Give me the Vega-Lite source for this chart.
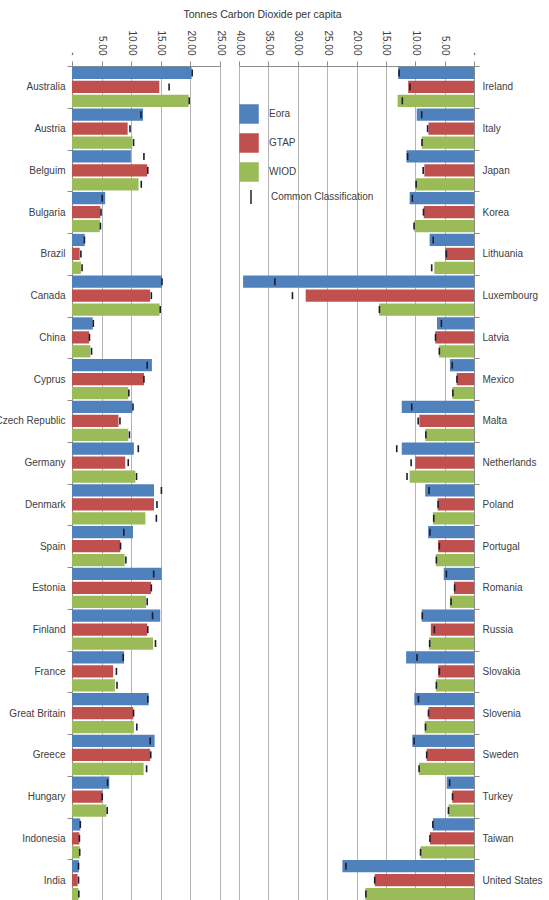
{
  "$schema": "https://vega.github.io/schema/vega-lite/v6.json",
  "background": "white",
  "padding": {"left": -6, "top": 10, "right": 0, "bottom": 0},
  "title": {
    "text": "Tonnes Carbon Dioxide per capita",
    "fontSize": 10.5,
    "fontWeight": "normal",
    "font": "Liberation Sans",
    "color": "#333333",
    "anchor": "middle",
    "dx": -6,
    "offset": 9
  },
  "datasets": {
    "left": [
      {"country": "Australia", "source": "Eora", "value": 20.2, "common": 20.3},
      {"country": "Australia", "source": "GTAP", "value": 14.75, "common": 16.4},
      {"country": "Australia", "source": "WIOD", "value": 19.7, "common": 19.8},
      {"country": "Austria", "source": "Eora", "value": 12.0, "common": 11.65},
      {"country": "Austria", "source": "GTAP", "value": 9.4, "common": 9.8},
      {"country": "Austria", "source": "WIOD", "value": 10.2, "common": 10.4},
      {"country": "Belguim", "source": "Eora", "value": 9.95, "common": 12.15},
      {"country": "Belguim", "source": "GTAP", "value": 12.7, "common": 12.8},
      {"country": "Belguim", "source": "WIOD", "value": 11.25, "common": 11.7},
      {"country": "Bulgaria", "source": "Eora", "value": 5.6, "common": 5.1},
      {"country": "Bulgaria", "source": "GTAP", "value": 4.8, "common": 4.9},
      {"country": "Bulgaria", "source": "WIOD", "value": 4.7, "common": 4.8},
      {"country": "Brazil", "source": "Eora", "value": 2.15, "common": 2.1},
      {"country": "Brazil", "source": "GTAP", "value": 1.3, "common": 1.5},
      {"country": "Brazil", "source": "WIOD", "value": 1.5, "common": 1.7},
      {"country": "Canada", "source": "Eora", "value": 15.2, "common": 15.2},
      {"country": "Canada", "source": "GTAP", "value": 13.2, "common": 13.4},
      {"country": "Canada", "source": "WIOD", "value": 14.8, "common": 14.9},
      {"country": "China", "source": "Eora", "value": 3.5, "common": 3.6},
      {"country": "China", "source": "GTAP", "value": 2.9, "common": 2.95},
      {"country": "China", "source": "WIOD", "value": 3.1, "common": 3.3},
      {"country": "Cyprus", "source": "Eora", "value": 13.5, "common": 12.7},
      {"country": "Cyprus", "source": "GTAP", "value": 12.15, "common": 12.15},
      {"country": "Cyprus", "source": "WIOD", "value": 9.5, "common": 9.6},
      {"country": "Czech Republic", "source": "Eora", "value": 10.2, "common": 10.3},
      {"country": "Czech Republic", "source": "GTAP", "value": 7.85, "common": 8.1},
      {"country": "Czech Republic", "source": "WIOD", "value": 9.5, "common": 9.7},
      {"country": "Germany", "source": "Eora", "value": 10.45, "common": 11.2},
      {"country": "Germany", "source": "GTAP", "value": 9.0, "common": 9.5},
      {"country": "Germany", "source": "WIOD", "value": 10.7, "common": 10.9},
      {"country": "Denmark", "source": "Eora", "value": 13.85, "common": 15.1},
      {"country": "Denmark", "source": "GTAP", "value": 13.85, "common": 14.35},
      {"country": "Denmark", "source": "WIOD", "value": 12.4, "common": 14.25},
      {"country": "Spain", "source": "Eora", "value": 10.3, "common": 8.75},
      {"country": "Spain", "source": "GTAP", "value": 8.15, "common": 8.2},
      {"country": "Spain", "source": "WIOD", "value": 8.9, "common": 9.1},
      {"country": "Estonia", "source": "Eora", "value": 15.15, "common": 13.8},
      {"country": "Estonia", "source": "GTAP", "value": 13.35, "common": 13.4},
      {"country": "Estonia", "source": "WIOD", "value": 12.5, "common": 12.7},
      {"country": "Finland", "source": "Eora", "value": 14.9, "common": 13.6},
      {"country": "Finland", "source": "GTAP", "value": 12.7, "common": 12.8},
      {"country": "Finland", "source": "WIOD", "value": 13.7, "common": 14.1},
      {"country": "France", "source": "Eora", "value": 8.8, "common": 8.65},
      {"country": "France", "source": "GTAP", "value": 6.95, "common": 7.5},
      {"country": "France", "source": "WIOD", "value": 7.25, "common": 7.6},
      {"country": "Great Britain", "source": "Eora", "value": 12.95, "common": 12.8},
      {"country": "Great Britain", "source": "GTAP", "value": 10.35, "common": 10.4},
      {"country": "Great Britain", "source": "WIOD", "value": 10.45, "common": 10.95},
      {"country": "Greece", "source": "Eora", "value": 13.95, "common": 13.2},
      {"country": "Greece", "source": "GTAP", "value": 13.2, "common": 13.3},
      {"country": "Greece", "source": "WIOD", "value": 12.1, "common": 12.6},
      {"country": "Hungary", "source": "Eora", "value": 6.3, "common": 6.0},
      {"country": "Hungary", "source": "GTAP", "value": 5.1, "common": 5.1},
      {"country": "Hungary", "source": "WIOD", "value": 5.8, "common": 5.95},
      {"country": "Indonesia", "source": "Eora", "value": 1.4, "common": 1.4},
      {"country": "Indonesia", "source": "GTAP", "value": 1.25, "common": 1.25},
      {"country": "Indonesia", "source": "WIOD", "value": 1.3, "common": 1.3},
      {"country": "India", "source": "Eora", "value": 1.15, "common": 1.1},
      {"country": "India", "source": "GTAP", "value": 0.95, "common": 1.1},
      {"country": "India", "source": "WIOD", "value": 1.08, "common": 1.15}
    ],
    "right": [
      {"country": "Ireland", "source": "Eora", "value": 12.9, "common": 12.75},
      {"country": "Ireland", "source": "GTAP", "value": 11.2, "common": 10.9},
      {"country": "Ireland", "source": "WIOD", "value": 13.0, "common": 12.2},
      {"country": "Italy", "source": "Eora", "value": 9.75, "common": 8.9},
      {"country": "Italy", "source": "GTAP", "value": 7.75, "common": 7.9},
      {"country": "Italy", "source": "WIOD", "value": 8.9, "common": 8.85},
      {"country": "Japan", "source": "Eora", "value": 11.5, "common": 11.3},
      {"country": "Japan", "source": "GTAP", "value": 8.45, "common": 8.65},
      {"country": "Japan", "source": "WIOD", "value": 9.9, "common": 9.85},
      {"country": "Korea", "source": "Eora", "value": 10.95, "common": 10.5},
      {"country": "Korea", "source": "GTAP", "value": 8.55, "common": 8.6},
      {"country": "Korea", "source": "WIOD", "value": 10.15, "common": 10.2},
      {"country": "Lithuania", "source": "Eora", "value": 7.55, "common": 6.95},
      {"country": "Lithuania", "source": "GTAP", "value": 4.9, "common": 4.7},
      {"country": "Lithuania", "source": "WIOD", "value": 6.75, "common": 7.2},
      {"country": "Luxembourg", "source": "Eora", "value": 39.3, "common": 33.9},
      {"country": "Luxembourg", "source": "GTAP", "value": 28.65, "common": 30.9},
      {"country": "Luxembourg", "source": "WIOD", "value": 16.15, "common": 16.1},
      {"country": "Latvia", "source": "Eora", "value": 6.3, "common": 5.55},
      {"country": "Latvia", "source": "GTAP", "value": 6.6, "common": 6.55},
      {"country": "Latvia", "source": "WIOD", "value": 5.95, "common": 5.9},
      {"country": "Mexico", "source": "Eora", "value": 4.1, "common": 3.7},
      {"country": "Mexico", "source": "GTAP", "value": 2.95, "common": 2.9},
      {"country": "Mexico", "source": "WIOD", "value": 3.7, "common": 3.6},
      {"country": "Malta", "source": "Eora", "value": 12.3, "common": 10.6},
      {"country": "Malta", "source": "GTAP", "value": 9.3, "common": 9.5},
      {"country": "Malta", "source": "WIOD", "value": 8.3, "common": 8.2},
      {"country": "Netherlands", "source": "Eora", "value": 12.3, "common": 13.15},
      {"country": "Netherlands", "source": "GTAP", "value": 10.0, "common": 10.7},
      {"country": "Netherlands", "source": "WIOD", "value": 10.95, "common": 11.4},
      {"country": "Poland", "source": "Eora", "value": 8.3, "common": 7.65},
      {"country": "Poland", "source": "GTAP", "value": 6.2, "common": 6.1},
      {"country": "Poland", "source": "WIOD", "value": 7.0, "common": 6.85},
      {"country": "Portugal", "source": "Eora", "value": 7.8, "common": 7.5},
      {"country": "Portugal", "source": "GTAP", "value": 6.1, "common": 5.9},
      {"country": "Portugal", "source": "WIOD", "value": 6.5, "common": 6.4},
      {"country": "Romania", "source": "Eora", "value": 5.15, "common": 4.7},
      {"country": "Romania", "source": "GTAP", "value": 3.4, "common": 3.3},
      {"country": "Romania", "source": "WIOD", "value": 4.1, "common": 3.9},
      {"country": "Russia", "source": "Eora", "value": 8.9, "common": 8.8},
      {"country": "Russia", "source": "GTAP", "value": 7.35, "common": 6.75},
      {"country": "Russia", "source": "WIOD", "value": 7.65, "common": 7.55},
      {"country": "Slovakia", "source": "Eora", "value": 11.55, "common": 9.7},
      {"country": "Slovakia", "source": "GTAP", "value": 6.1, "common": 5.9},
      {"country": "Slovakia", "source": "WIOD", "value": 6.5, "common": 6.4},
      {"country": "Slovenia", "source": "Eora", "value": 10.15, "common": 9.45},
      {"country": "Slovenia", "source": "GTAP", "value": 7.75, "common": 7.75},
      {"country": "Slovenia", "source": "WIOD", "value": 8.4, "common": 8.25},
      {"country": "Sweden", "source": "Eora", "value": 10.5, "common": 10.2},
      {"country": "Sweden", "source": "GTAP", "value": 8.05, "common": 8.05},
      {"country": "Sweden", "source": "WIOD", "value": 9.35, "common": 9.35},
      {"country": "Turkey", "source": "Eora", "value": 4.65, "common": 4.15},
      {"country": "Turkey", "source": "GTAP", "value": 3.7, "common": 3.65},
      {"country": "Turkey", "source": "WIOD", "value": 4.35, "common": 4.35},
      {"country": "Taiwan", "source": "Eora", "value": 7.0, "common": 7.0},
      {"country": "Taiwan", "source": "GTAP", "value": 7.5, "common": 7.5},
      {"country": "Taiwan", "source": "WIOD", "value": 9.1, "common": 9.1},
      {"country": "United States", "source": "Eora", "value": 22.4, "common": 21.8},
      {"country": "United States", "source": "GTAP", "value": 16.9, "common": 16.9},
      {"country": "United States", "source": "WIOD", "value": 18.5, "common": 18.4}
    ]
  },
  "hconcat": [
    {
      "width": 148,
      "height": 835,
      "data": {"name": "left"},
      "encoding": {
        "y": {
          "field": "country",
          "type": "nominal",
          "sort": null,
          "scale": {"paddingInner": 0, "paddingOuter": 0},
          "axis": {
            "orient": "left",
            "title": null,
            "tickBand": "extent",
            "tickSize": 5,
            "labelPadding": 2,
            "domainColor": "#8c8c8c",
            "tickColor": "#8c8c8c"
          }
        },
        "yOffset": {
          "field": "source",
          "type": "nominal",
          "scale": {"paddingInner": 0.12, "paddingOuter": 0.06}
        }
      },
      "layer": [
        {
          "mark": {"type": "bar"},
          "encoding": {
            "x": {
              "field": "value",
              "type": "quantitative",
              "scale": {"domain": [0, 25], "nice": false},
              "axis": {
                "orient": "top",
                "title": null,
                "values": [0, 5, 10, 15, 20, 25],
                "labelExpr": "datum.value == 0 ? '-' : format(datum.value, '.2f')",
                "labelAngle": 90,
                "labelOverlap": false,
                "tickSize": 5,
                "labelPadding": 6,
                "grid": true
              }
            },
            "color": {
              "field": "source",
              "type": "nominal",
              "scale": {"domain": ["Eora", "GTAP", "WIOD"], "range": ["#4f81bd", "#c0504d", "#9bbb59"]},
              "legend": null
            }
          }
        },
        {
          "mark": {"type": "point", "filled": false, "size": 49, "strokeWidth": 1.6, "color": "#1c1c30", "opacity": 1},
          "encoding": {
            "x": {
              "field": "common",
              "type": "quantitative",
              "axis": {
                "orient": "top",
                "title": null,
                "values": [0, 5, 10, 15, 20, 25],
                "labelExpr": "datum.value == 0 ? '-' : format(datum.value, '.2f')",
                "labelAngle": 90,
                "labelOverlap": false,
                "tickSize": 5,
                "labelPadding": 6,
                "grid": true
              }
            },
            "shape": {
              "datum": "Common Classification",
              "scale": {"range": ["M0,-1L0,1"]},
              "legend": null
            }
          }
        }
      ]
    },
    {
      "width": 235,
      "height": 835,
      "data": {"name": "right"},
      "encoding": {
        "y": {
          "field": "country",
          "type": "nominal",
          "sort": null,
          "scale": {"paddingInner": 0, "paddingOuter": 0},
          "axis": {
            "orient": "right",
            "title": null,
            "tickBand": "extent",
            "tickSize": 5,
            "labelPadding": 3,
            "domainColor": "#8c8c8c",
            "tickColor": "#8c8c8c"
          }
        },
        "yOffset": {
          "field": "source",
          "type": "nominal",
          "scale": {"paddingInner": 0.12, "paddingOuter": 0.06}
        }
      },
      "layer": [
        {
          "mark": {"type": "bar"},
          "encoding": {
            "x": {
              "field": "value",
              "type": "quantitative",
              "scale": {"domain": [0, 40], "nice": false, "reverse": true},
              "axis": {
                "orient": "top",
                "title": null,
                "values": [0, 5, 10, 15, 20, 25, 30, 35, 40],
                "labelExpr": "datum.value == 0 ? '-' : format(datum.value, '.2f')",
                "labelAngle": 90,
                "labelOverlap": false,
                "tickSize": 5,
                "labelPadding": 6,
                "grid": true
              }
            },
            "color": {
              "field": "source",
              "type": "nominal",
              "scale": {"domain": ["Eora", "GTAP", "WIOD"], "range": ["#4f81bd", "#c0504d", "#9bbb59"]},
              "legend": {
                "orient": "none",
                "legendX": 0,
                "legendY": 38,
                "title": null,
                "padding": 0,
                "symbolType": "square",
                "symbolSize": 380,
                "symbolStrokeWidth": 0,
                "symbolOpacity": 1,
                "labelOffset": 10,
                "rowPadding": 9,
                "labelFontSize": 10
              }
            }
          }
        },
        {
          "mark": {"type": "point", "filled": false, "size": 49, "strokeWidth": 1.6, "color": "#1c1c30", "opacity": 1},
          "encoding": {
            "x": {
              "field": "common",
              "type": "quantitative",
              "axis": {
                "orient": "top",
                "title": null,
                "values": [0, 5, 10, 15, 20, 25, 30, 35, 40],
                "labelExpr": "datum.value == 0 ? '-' : format(datum.value, '.2f')",
                "labelAngle": 90,
                "labelOverlap": false,
                "tickSize": 5,
                "labelPadding": 6,
                "grid": true
              }
            },
            "shape": {
              "datum": "Common Classification",
              "scale": {"range": ["M0,-1L0,1"]},
              "legend": {
                "orient": "none",
                "legendX": 4,
                "legendY": 123,
                "title": null,
                "padding": 0,
                "symbolSize": 196,
                "symbolStrokeColor": "#1c1c30",
                "symbolStrokeWidth": 1.5,
                "labelOffset": 12,
                "labelFontSize": 10
              }
            }
          }
        }
      ]
    }
  ],
  "spacing": 8,
  "resolve": {
    "scale": {"color": "independent", "shape": "independent"},
    "legend": {"color": "independent", "shape": "independent"}
  },
  "config": {
    "view": {"stroke": null},
    "font": "Liberation Sans",
    "axis": {
      "labelFont": "Liberation Sans",
      "labelFontSize": 10,
      "labelColor": "#404040",
      "domainColor": "#8c8c8c",
      "tickColor": "#8c8c8c",
      "gridColor": "#b4b4b4",
      "gridOpacity": 1
    },
    "legend": {
      "labelFont": "Liberation Sans",
      "labelColor": "#404040"
    }
  }
}
